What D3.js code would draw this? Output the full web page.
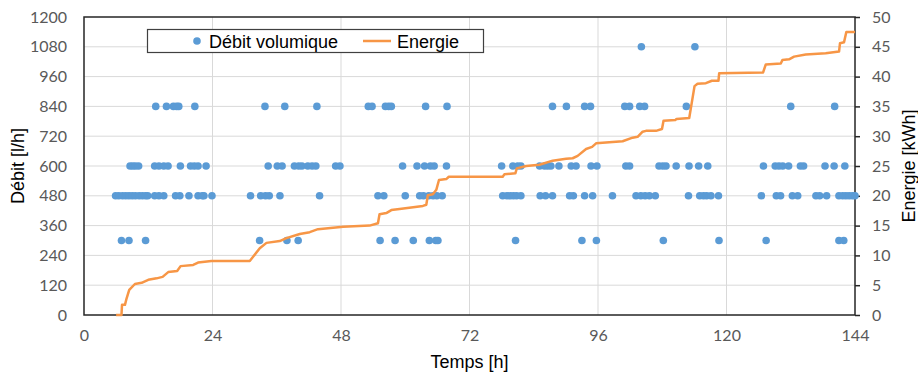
<!DOCTYPE html>
<html>
<head>
<meta charset="utf-8">
<script src="https://cdn.jsdelivr.net/npm/d3@7"></script>
<style>
  body { margin: 0; background: #fff; }
  svg { display: block; }
</style>
</head>
<body>
<svg id="chart" width="918" height="374"></svg>
<script>
// débit volumique [l/h] : instants (h) for each flow level
const debit300 = [7.0, 8.4, 11.5, 32.8, 37.9, 40.0, 55.3, 58.1, 61.5, 64.5, 65.7, 66.1, 80.6, 93.0, 95.7, 108.2, 118.6, 127.4, 141.0, 141.9];
const debit480 = [5.9, 6.5, 7.2, 7.8, 8.4, 9.0, 9.6, 10.3, 10.9, 11.5, 11.9, 13.2, 14.0, 14.9, 17.1, 17.9, 19.6, 21.3, 22.1, 22.4, 23.9,
  31.1, 33.0, 33.9, 34.6, 36.6, 44.0, 54.9, 56.0, 60.0, 62.7, 63.4, 64.4, 65.2, 65.9, 66.9,
  78.2, 79.0, 79.6, 80.2, 80.8, 81.6, 85.2, 86.2, 87.5, 90.7, 91.4, 93.5, 95.0, 98.7, 103.1, 104.0, 104.8, 105.6, 106.7,
  112.9, 115.0, 115.7, 116.3, 117.1, 118.5, 126.5, 129.3, 130.1, 132.3, 133.3, 136.7, 137.4, 138.7, 141.0, 141.7, 142.3, 142.9, 143.5, 144.0];
const debit600 = [8.6, 9.1, 9.6, 10.2, 13.2, 14.0, 14.9, 15.7, 18.0, 19.9, 20.6, 21.3, 22.8, 34.4, 36.1, 37.0, 39.3, 40.1, 40.7, 41.8, 42.6, 43.3,
  47.0, 47.8, 59.5, 62.2, 63.6, 64.7, 65.4, 67.7, 78.0, 80.1, 81.0, 81.6, 85.1, 86.0, 86.6, 87.2, 88.7, 91.0, 91.9, 94.7, 95.8,
  101.2, 101.9, 107.4, 108.1, 108.7, 110.6, 113.0, 114.8, 116.5, 126.9, 129.1, 129.8, 130.5, 131.6, 133.8, 134.4, 138.4, 140.1, 142.1];
const debit840 = [13.4, 15.4, 16.7, 17.3, 17.7, 20.7, 33.8, 37.5, 43.5, 53.1, 53.8, 56.3, 56.9, 57.4, 63.8, 67.8,
  87.5, 90.1, 93.5, 94.6, 101.0, 101.9, 103.8, 104.7, 112.5, 132.0, 140.2];
const debit1080 = [104.1, 114.1];

// énergie cumulée [kWh]
const energieT = [6.0, 7.0, 7.1, 7.65, 7.96, 8.45, 9.51, 10.76, 12.0, 13.56, 14.68, 15.73, 17.4, 18.04, 20.4, 21.3, 23.8,
  30.96, 32.83, 34.08, 36.56, 37.8, 40.3, 42.16, 43.7, 48.4, 53.35, 54.9, 55.2, 56.46, 57.4, 58.94, 63.3, 63.93, 64.22,
  65.15, 65.8, 66.3, 67.66, 68.14, 78.2, 78.53, 80.58, 80.83, 82.58, 85.06, 87.54, 90.04, 91.27, 92.2, 93.77, 94.9, 95.64,
  96.87, 100.6, 102.46, 103.4, 104.33, 104.96, 106.83, 107.95, 108.24, 110.43, 110.67, 113.04, 114.03, 114.59, 116.15,
  117.27, 118.5, 118.63, 126.84, 127.34, 130.14, 130.44, 131.69, 132.62, 134.8, 138.53, 141.02, 141.2, 141.95, 142.38, 144.0];
const energieKWh = [0, 0, 1.7, 1.7, 2.8, 4.2, 5.2, 5.4, 5.9, 6.15, 6.4, 7.2, 7.4, 8.2, 8.4, 8.8, 9.06,
  9.06, 11.2, 12.1, 12.4, 12.9, 13.6, 13.9, 14.4, 14.8, 15.0, 15.4, 16.9, 17.1, 17.6, 17.8, 18.3, 18.5, 20.1,
  20.25, 21.0, 22.65, 22.8, 23.2, 23.2, 23.6, 23.8, 24.6, 25.0, 25.2, 25.9, 26.2, 26.3, 26.7, 27.85, 28.2, 28.8,
  28.9, 29.15, 29.75, 29.9, 30.75, 30.9, 30.9, 31.2, 32.6, 32.7, 32.9, 33.05, 38.4, 38.8, 38.9,
  39.3, 39.3, 40.55, 40.7, 42.05, 42.2, 42.8, 42.9, 43.35, 43.7, 43.9, 44.2, 45.6, 45.75, 47.5, 47.5];

const xTicks = [0, 24, 48, 72, 96, 120, 144];
const yTicks = [0, 120, 240, 360, 480, 600, 720, 840, 960, 1080, 1200];
const y2Ticks = [0, 5, 10, 15, 20, 25, 30, 35, 40, 45, 50];

const blue = "#5b9bd5", orange = "#f79646";
const margin = { top: 17, right: 63, bottom: 59, left: 84 };
const W = 918, H = 374;
const iw = W - margin.left - margin.right, ih = H - margin.top - margin.bottom;

const svg = d3.select("#chart");
const g = svg.append("g").attr("transform", `translate(${margin.left},${margin.top})`);

const x = d3.scaleLinear().domain([0, 144]).range([0, iw]);
const y = d3.scaleLinear().domain([0, 1200]).range([ih, 0]);
const y2 = d3.scaleLinear().domain([0, 50]).range([ih, 0]);

// grid
g.append("g").selectAll("line").data(yTicks.slice(1, -1)).join("line")
  .attr("x1", 0).attr("x2", iw).attr("y1", d => y(d)).attr("y2", d => y(d))
  .attr("stroke", "#d9d9d9").attr("stroke-width", 1);
g.append("g").selectAll("line").data(xTicks.slice(1, -1)).join("line")
  .attr("y1", 0).attr("y2", ih).attr("x1", d => x(d)).attr("x2", d => x(d))
  .attr("stroke", "#d9d9d9").attr("stroke-width", 1);

// axes
const fmt = d3.format("d");
const tickFont = g => g.selectAll("text").attr("fill", "#595959")
  .style("font-family", "Lato, 'Open Sans', sans-serif").style("font-size", "16px");

g.append("g").attr("transform", `translate(0,${ih})`)
  .call(d3.axisBottom(x).tickValues(xTicks).tickFormat(fmt).tickSize(0).tickPadding(15))
  .call(a => a.select(".domain").remove())
  .call(tickFont);

g.append("g")
  .call(d3.axisLeft(y).tickValues(yTicks).tickFormat(fmt).tickSize(0).tickPadding(17))
  .call(a => a.select(".domain").remove())
  .call(tickFont);

g.append("g").attr("transform", `translate(${iw},0)`)
  .call(d3.axisRight(y2).tickValues(y2Ticks).tickFormat(fmt).tickSize(5).tickPadding(12))
  .call(a => a.select(".domain").remove())
  .call(a => a.selectAll("line").attr("stroke", "#262626").attr("stroke-width", 1.5))
  .call(tickFont);

// frame
g.append("rect").attr("x", 0).attr("y", 0).attr("width", iw).attr("height", ih)
  .attr("fill", "none").attr("stroke", "#262626").attr("stroke-width", 1.5);

// scatter
const points = [];
[[300, debit300], [480, debit480], [600, debit600], [840, debit840], [1080, debit1080]]
  .forEach(([q, ts]) => ts.forEach(t => points.push({ t, q })));

g.append("g").selectAll("circle").data(points).join("circle")
  .attr("cx", d => x(d.t)).attr("cy", d => y(d.q)).attr("r", 3.8)
  .attr("fill", blue);

// energy line
const energie = energieT.map((t, i) => ({ t, e: energieKWh[i] }));
g.append("path").datum(energie)
  .attr("fill", "none").attr("stroke", orange).attr("stroke-width", 2.5)
  .attr("stroke-linejoin", "round")
  .attr("d", d3.line().x(d => x(d.t)).y(d => y2(d.e)));

// titles
const titleFont = s => s.attr("fill", "#000")
  .style("font-family", "'Liberation Sans', Arial, sans-serif").style("font-size", "18px");

svg.append("text").attr("x", margin.left + iw / 2).attr("y", 368).attr("text-anchor", "middle")
  .text("Temps [h]").call(titleFont);
svg.append("text").attr("transform", `translate(24,${margin.top + ih / 2}) rotate(-90)`)
  .attr("text-anchor", "middle").text("Débit [l/h]").call(titleFont);
svg.append("text").attr("transform", `translate(915,${margin.top + ih / 2}) rotate(-90)`)
  .attr("text-anchor", "middle").text("Energie [kWh]").call(titleFont);

// legend
const lg = svg.append("g");
lg.append("rect").attr("x", 147.5).attr("y", 29.5).attr("width", 336).attr("height", 23)
  .attr("fill", "#fff").attr("stroke", "#404040").attr("stroke-width", 1.2);
lg.append("circle").attr("cx", 197).attr("cy", 41).attr("r", 3.8).attr("fill", blue);
lg.append("text").attr("x", 209).attr("y", 47.5).text("Débit volumique").call(titleFont);
lg.append("line").attr("x1", 363).attr("x2", 391).attr("y1", 41).attr("y2", 41)
  .attr("stroke", orange).attr("stroke-width", 2.5);
lg.append("text").attr("x", 397).attr("y", 47.5).text("Energie").call(titleFont);
</script>
</body>
</html>
